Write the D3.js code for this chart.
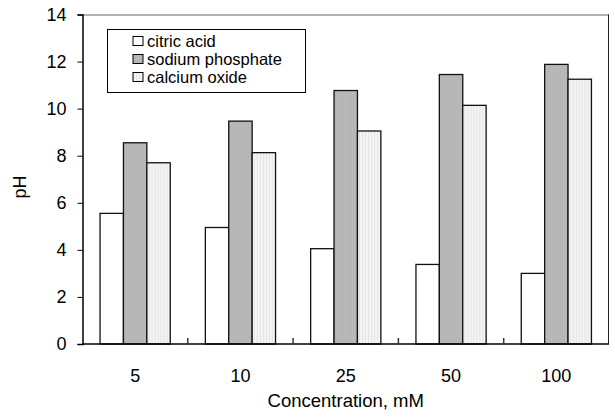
<!DOCTYPE html>
<html>
<head>
<meta charset="utf-8">
<script src="https://cdn.jsdelivr.net/npm/d3@7"></script>
<style>
    body { margin: 0; background: #fff; }
    text { font-family: "Liberation Sans", Arial, sans-serif; fill: #000; }
</style>
</head>
<body>
<div id="chart"></div>
<script>
// Data
var concentrations = ["5", "10", "25", "50", "100"];
var seriesNames = ["citric acid", "sodium phosphate", "calcium oxide"];
var citricAcid = [5.55, 4.95, 4.05, 3.38, 3.0];
var sodiumPhosphate = [8.55, 9.47, 10.77, 11.45, 11.88];
var calciumOxide = [7.7, 8.13, 9.05, 10.14, 11.25];
var yTicks = [0, 2, 4, 6, 8, 10, 12, 14];

var seriesValues = [citricAcid, sodiumPhosphate, calciumOxide];
var fills = ["#ffffff", "url(#patSodium)", "url(#patCalcium)"];

var width = 615, height = 419;
var margin = {top: 14.5, left: 82.5, right: 6, bottom: 75};
var plotW = width - margin.left - margin.right;
var plotH = height - margin.top - margin.bottom;

var svg = d3.select("#chart")
    .append("svg")
    .attr("width", width)
    .attr("height", height);

// fill patterns
var defs = svg.append("defs");
var ps = defs.append("pattern")
    .attr("id", "patSodium")
    .attr("patternUnits", "userSpaceOnUse")
    .attr("width", 2).attr("height", 2);
ps.append("rect").attr("width", 2).attr("height", 2).attr("fill", "#cacaca");
ps.append("rect").attr("width", 1).attr("height", 1).attr("fill", "#9c9c9c");
ps.append("rect").attr("x", 1).attr("y", 1).attr("width", 1).attr("height", 1).attr("fill", "#acacac");

var pc = defs.append("pattern")
    .attr("id", "patCalcium")
    .attr("patternUnits", "userSpaceOnUse")
    .attr("width", 3).attr("height", 2);
pc.append("rect").attr("width", 3).attr("height", 2).attr("fill", "#f5f5f5");
pc.append("rect").attr("width", 1).attr("height", 1).attr("fill", "#d0d0d0");

var g = svg.append("g")
    .attr("transform", "translate(" + margin.left + "," + margin.top + ")");

var x0 = d3.scaleBand()
    .domain(concentrations)
    .range([0, plotW])
    .paddingInner(0)
    .paddingOuter(0);

// gap width 150% of a bar -> bars take 3/4.5 of the category
var x1 = d3.scaleBand()
    .domain(d3.range(seriesNames.length))
    .range([x0.bandwidth() * 0.75 / 4.5, x0.bandwidth() * (1 - 0.75 / 4.5)])
    .padding(0);

var y = d3.scaleLinear()
    .domain([0, 14])
    .range([plotH, 0]);

// frame top / right
g.append("line")
    .attr("x1", 0).attr("x2", plotW)
    .attr("y1", 0.5).attr("y2", 0.5)
    .attr("stroke", "#666").attr("stroke-width", 1);
g.append("line")
    .attr("x1", plotW - 0.5).attr("x2", plotW - 0.5)
    .attr("y1", 0).attr("y2", plotH)
    .attr("stroke", "#222").attr("stroke-width", 1);

// bars
var groups = g.selectAll("g.grp")
    .data(concentrations)
    .join("g")
    .attr("class", "grp")
    .attr("transform", function(d) { return "translate(" + x0(d) + ",0)"; });

groups.selectAll("rect")
    .data(function(d, i) {
        return seriesValues.map(function(s, k) { return {k: k, v: s[i]}; });
    })
    .join("rect")
    .attr("x", function(d) { return x1(d.k); })
    .attr("width", x1.bandwidth())
    .attr("y", function(d) { return y(d.v); })
    .attr("height", function(d) { return plotH - y(d.v); })
    .attr("fill", function(d) { return fills[d.k]; })
    .attr("stroke", "#111")
    .attr("stroke-width", 1.3);

// y axis
var yAxis = g.append("g")
    .call(d3.axisLeft(y).tickValues(yTicks).tickSize(5).tickPadding(11).tickFormat(d3.format("d")));
yAxis.select(".domain").attr("stroke", "#000").attr("stroke-width", 1.5);
yAxis.selectAll(".tick line").attr("stroke", "#000");
yAxis.selectAll("text").style("font-size", "18px").attr("fill", "#000");

// x axis: ticks between categories, pointing inward
var xAxisG = g.append("g")
    .attr("transform", "translate(0," + plotH + ")");
xAxisG.append("line")
    .attr("x1", 0).attr("x2", plotW)
    .attr("y1", 0).attr("y2", 0)
    .attr("stroke", "#000").attr("stroke-width", 1.5);
xAxisG.selectAll("line.sep")
    .data(concentrations.slice(1))
    .join("line")
    .attr("class", "sep")
    .attr("x1", function(d) { return x0(d); })
    .attr("x2", function(d) { return x0(d); })
    .attr("y1", 0).attr("y2", -6)
    .attr("stroke", "#333").attr("stroke-width", 1.5);
xAxisG.selectAll("text")
    .data(concentrations)
    .join("text")
    .attr("x", function(d) { return x0(d) + x0.bandwidth() / 2; })
    .attr("y", 37.5)
    .attr("text-anchor", "middle")
    .style("font-size", "18px")
    .text(function(d) { return d; });

// axis titles
svg.append("text")
    .attr("x", margin.left + plotW / 2)
    .attr("y", 406.5)
    .attr("text-anchor", "middle")
    .style("font-size", "18.5px")
    .text("Concentration, mM");

svg.append("text")
    .attr("transform", "translate(26,187) rotate(-90)")
    .attr("text-anchor", "middle")
    .style("font-size", "18px")
    .text("pH");

// legend
var legend = svg.append("g").attr("transform", "translate(107.5,29.5)");
legend.append("rect")
    .attr("width", 198).attr("height", 63)
    .attr("fill", "#fff").attr("stroke", "#000").attr("stroke-width", 1);

var items = legend.selectAll("g.item")
    .data(seriesNames)
    .join("g")
    .attr("class", "item")
    .attr("transform", function(d, i) { return "translate(25.5," + (7 + i * 18) + ")"; });
items.append("rect")
    .attr("width", 10).attr("height", 9)
    .attr("fill", function(d, i) { return fills[i]; })
    .attr("stroke", "#000").attr("stroke-width", 1);
items.append("text")
    .attr("x", 14).attr("y", 10.5)
    .style("font-size", "16.5px")
    .text(function(d) { return d; });
</script>
</body>
</html>
